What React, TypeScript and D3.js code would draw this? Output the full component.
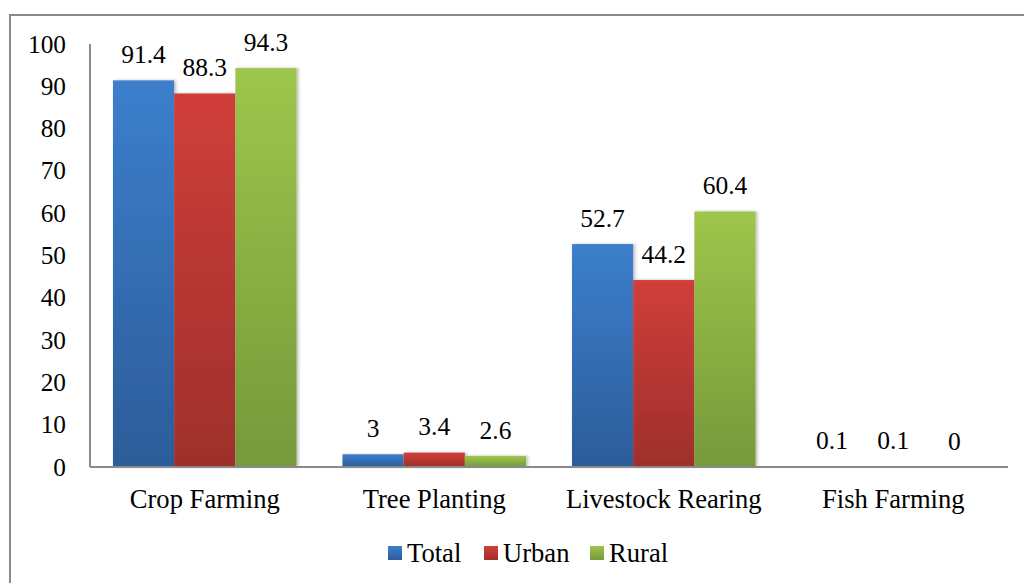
import React from "react";
import * as d3 from "d3";

const categories = ["Crop Farming", "Tree Planting", "Livestock Rearing", "Fish Farming"];
const seriesNames = ["Total", "Urban", "Rural"];
const totalValues = [91.4, 3, 52.7, 0.1];
const urbanValues = [88.3, 3.4, 44.2, 0.1];
const ruralValues = [94.3, 2.6, 60.4, 0];
const yTicks = [0, 10, 20, 30, 40, 50, 60, 70, 80, 90, 100];

const seriesValues = [totalValues, urbanValues, ruralValues];
const colorsTop = ["#3C7FCC", "#D03E3A", "#9DC64B"];
const colorsBottom = ["#2C5C99", "#9E2F2C", "#76993A"];

const W = 1024;
const H = 583;
const left = 90;
const right = 1008;
const top = 44;
const bottom = 467;
const FONT = "'Liberation Serif', 'Times New Roman', serif";

export default function App() {
  const x0 = d3.scaleBand<string>().domain(categories).range([left, right]).paddingInner(0.2).paddingOuter(0.1);
  const x1 = d3.scaleBand<string>().domain(seriesNames).range([0, x0.bandwidth()]);
  const y = d3.scaleLinear().domain([0, 100]).range([bottom, top]);

  const legendX = [388, 484, 590];
  const tsTick = { fontFamily: FONT, fontSize: 25.3 };
  const tsVal = { fontFamily: FONT, fontSize: 25.5 };
  const tsCat = { fontFamily: FONT, fontSize: 26.6 };
  const tsLeg = { fontFamily: FONT, fontSize: 26.6 };

  return (
    <svg
      width={W}
      height={H}
      style={{ position: "absolute", left: 0, top: 0, background: "#fff" }}
    >
      <defs>
        {seriesNames.map((s, i) => (
          <linearGradient key={s} id={`g${i}`} x1="0" y1="0" x2="0" y2="1">
            <stop offset="0%" stopColor={colorsTop[i]} />
            <stop offset="100%" stopColor={colorsBottom[i]} />
          </linearGradient>
        ))}
        <filter id="sh" x="-10%" y="-10%" width="130%" height="120%">
          <feDropShadow dx="2" dy="0" stdDeviation="1.5" floodColor="#000" floodOpacity="0.25" />
        </filter>
      </defs>
      <rect x={10} y={15} width={1030} height={600} fill="#fff" stroke="#8a8a8a" strokeWidth={2} />

      {categories.map((c, ci) => (
        <g key={c}>
          {seriesNames.map((s, si) => {
            const v = seriesValues[si][ci];
            const bx = (x0(c) ?? 0) + (x1(s) ?? 0);
            return (
              <rect
                key={s}
                x={bx}
                y={y(v)}
                width={x1.bandwidth()}
                height={bottom - y(v)}
                fill={`url(#g${si})`}
                filter="url(#sh)"
              />
            );
          })}
        </g>
      ))}

      {categories.map((c, ci) =>
        seriesNames.map((s, si) => {
          const v = seriesValues[si][ci];
          const cx = (x0(c) ?? 0) + (x1(s) ?? 0) + x1.bandwidth() / 2;
          return (
            <text key={c + s} x={cx} y={y(v) - 17.5} textAnchor="middle" style={tsVal} fill="#000">
              {String(v)}
            </text>
          );
        })
      )}

      <line x1={left} y1={top} x2={left} y2={bottom} stroke="#8a8a8a" strokeWidth={2} />
      <line x1={left} y1={bottom} x2={right} y2={bottom} stroke="#8a8a8a" strokeWidth={2} />

      {yTicks.map((t) => (
        <text key={t} x={66} y={y(t) + 8.5} textAnchor="end" style={tsTick} fill="#000">
          {t}
        </text>
      ))}

      {categories.map((c) => (
        <text key={c} x={(x0(c) ?? 0) + x0.bandwidth() / 2} y={508} textAnchor="middle" style={tsCat} fill="#000">
          {c}
        </text>
      ))}

      {seriesNames.map((s, i) => (
        <g key={s}>
          <rect x={legendX[i]} y={546} width={14} height={14} fill={`url(#g${i})`} />
          <text x={legendX[i] + 19} y={561.5} style={tsLeg} fill="#000">
            {s}
          </text>
        </g>
      ))}
    </svg>
  );
}
